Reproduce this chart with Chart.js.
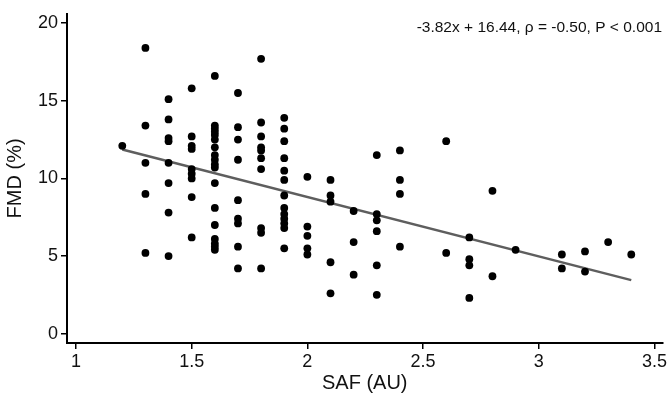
<!DOCTYPE html>
<html>
<head>
<meta charset="utf-8">
<script src="https://cdn.jsdelivr.net/npm/chart.js@4.4.0/dist/chart.umd.min.js"></script>
<style>
  html, body { margin: 0; padding: 0; background: #fff; overflow: hidden; }
  canvas { display: block; }
</style>
</head>
<body>
<canvas id="saf" width="669" height="401"></canvas>
<script>
// SAF (AU) columns and FMD (%) values
const safValues = [
  1.2,
  1.3, 1.3, 1.3, 1.3, 1.3,
  1.4, 1.4, 1.4, 1.4, 1.4, 1.4, 1.4, 1.4,
  1.5, 1.5, 1.5, 1.5, 1.5, 1.5, 1.5, 1.5, 1.5,
  1.6, 1.6, 1.6, 1.6, 1.6, 1.6, 1.6, 1.6, 1.6, 1.6, 1.6, 1.6, 1.6, 1.6, 1.6, 1.6, 1.6, 1.6,
  1.7, 1.7, 1.7, 1.7, 1.7, 1.7, 1.7, 1.7, 1.7,
  1.8, 1.8, 1.8, 1.8, 1.8, 1.8, 1.8, 1.8, 1.8, 1.8,
  1.9, 1.9, 1.9, 1.9, 1.9, 1.9, 1.9, 1.9, 1.9, 1.9, 1.9, 1.9, 1.9,
  2.0, 2.0, 2.0, 2.0, 2.0,
  2.1, 2.1, 2.1, 2.1, 2.1,
  2.2, 2.2, 2.2,
  2.3, 2.3, 2.3, 2.3, 2.3, 2.3,
  2.4, 2.4, 2.4, 2.4,
  2.6, 2.6,
  2.7, 2.7, 2.7, 2.7,
  2.8, 2.8,
  2.9,
  3.1, 3.1,
  3.2, 3.2,
  3.3,
  3.4
];
const fmdValues = [
  12.1,
  18.4, 13.4, 11.0, 9.0, 5.2,
  15.1, 13.8, 12.6, 12.4, 11.0, 9.7, 7.8, 5.0,
  15.8, 12.7, 12.1, 11.9, 10.6, 10.3, 10.0, 8.8, 6.2,
  16.6, 13.4, 13.2, 13.0, 12.8, 12.5, 12.0, 11.5, 11.2, 10.9, 10.7, 9.7, 8.1, 7.0, 6.1, 5.8, 5.6, 5.4,
  15.5, 13.3, 12.5, 11.2, 8.6, 7.4, 7.1, 5.6, 4.2,
  17.7, 13.6, 12.7, 12.0, 11.8, 11.3, 10.6, 6.8, 6.5, 4.2,
  13.9, 13.2, 12.4, 11.3, 10.5, 9.9, 8.9, 8.1, 7.7, 7.4, 7.1, 6.8, 5.5,
  10.1, 6.9, 6.3, 5.5, 5.1,
  9.9, 8.9, 8.5, 4.6, 2.6,
  7.9, 5.9, 3.8,
  11.5, 7.7, 7.3, 6.6, 4.4, 2.5,
  11.8, 9.9, 9.0, 5.6,
  12.4, 5.2,
  6.2, 4.8, 4.4, 2.3,
  9.2, 3.7,
  5.4,
  5.1, 4.2,
  5.3, 4.0,
  5.9,
  5.1
];

// fitted line: -3.82x + 16.44, drawn over the observed SAF range
const fitX = [1.2, 3.4];
const fitY = [11.86, 3.45];

const xTicks = [1, 1.5, 2, 2.5, 3, 3.5];
const yTicks = [0, 5, 10, 15, 20];
const statText = '-3.82x + 16.44, \u03C1 = -0.50, P < 0.001';

const FONT = '"Liberation Sans", Arial, sans-serif';

const scatterPoints = safValues.map((x, i) => ({ x: x, y: fmdValues[i] }));
const fitPoints = fitX.map((x, i) => ({ x: x, y: fitY[i] }));

// writes the regression text in the top right corner
const statLabel = {
  id: 'statLabel',
  afterDraw(chart) {
    const ctx = chart.ctx;
    ctx.save();
    ctx.font = '15.5px ' + FONT;
    ctx.fillStyle = '#111';
    ctx.textAlign = 'right';
    ctx.textBaseline = 'middle';
    ctx.fillText(statText, 662, 28);
    ctx.restore();
  }
};

new Chart(document.getElementById('saf'), {
  type: 'scatter',
  data: {
    datasets: [
      {
        type: 'line',
        data: fitPoints,
        borderColor: '#5e5e5e',
        borderWidth: 2.5,
        pointRadius: 0,
        fill: false,
        order: 2
      },
      {
        data: scatterPoints,
        backgroundColor: '#000',
        borderColor: '#000',
        pointRadius: 3.9,
        borderWidth: 0,
        order: 1
      }
    ]
  },
  options: {
    responsive: false,
    animation: false,
    devicePixelRatio: 1,
    layout: { padding: { top: 2, right: 6, left: 0, bottom: 0 } },
    plugins: {
      legend: { display: false },
      tooltip: { enabled: false }
    },
    scales: {
      x: {
        type: 'linear',
        min: 0.961,
        max: 3.535,
        afterBuildTicks: s => { s.ticks = xTicks.map(v => ({ value: v })); },
        afterFit: s => { s.height = 58; },
        border: { color: '#000', width: 2 },
        grid: { drawOnChartArea: false, drawTicks: true, tickLength: 6, color: '#000', lineWidth: 1.5 },
        ticks: {
          color: '#111',
          font: { family: FONT, size: 18 },
          padding: 2,
          maxRotation: 0,
          autoSkip: false,
          callback: v => String(v)
        },
        title: {
          display: true,
          text: 'SAF (AU)',
          color: '#111',
          font: { family: FONT, size: 20 },
          padding: { top: 0, bottom: 6 }
        }
      },
      y: {
        type: 'linear',
        min: -0.6,
        max: 20.6,
        afterBuildTicks: s => { s.ticks = yTicks.map(v => ({ value: v })); },
        afterFit: s => { s.width = 67; },
        border: { color: '#000', width: 2 },
        grid: { drawOnChartArea: false, drawTicks: true, tickLength: 6, color: '#000', lineWidth: 1.5 },
        ticks: {
          color: '#111',
          font: { family: FONT, size: 18 },
          padding: 3,
          autoSkip: false,
          callback: v => String(v)
        },
        title: {
          display: true,
          text: 'FMD (%)',
          color: '#111',
          font: { family: FONT, size: 20 },
          padding: { top: 3, bottom: 0 }
        }
      }
    }
  },
  plugins: [statLabel]
});
</script>
</body>
</html>
